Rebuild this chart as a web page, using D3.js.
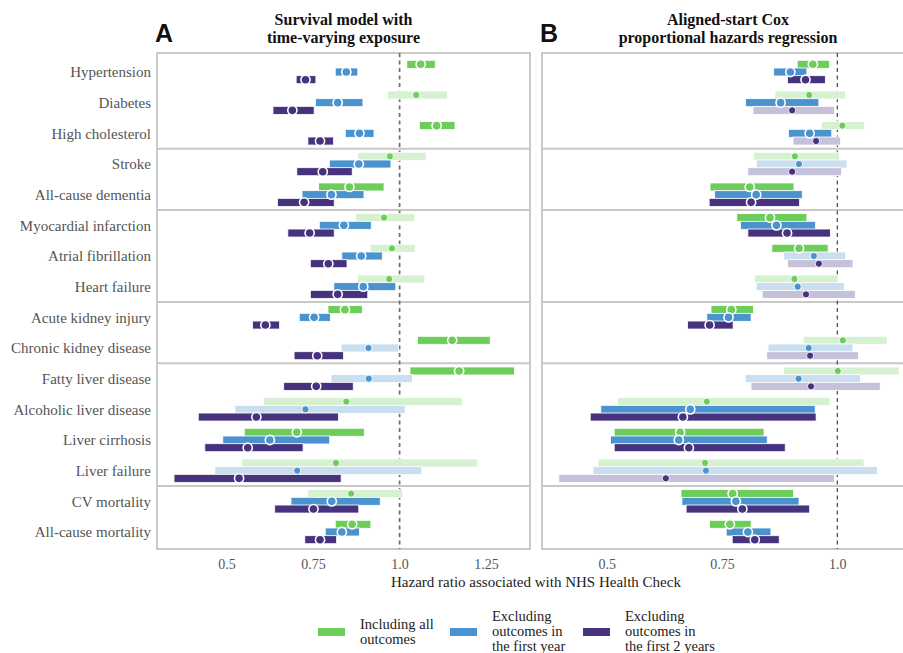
<!DOCTYPE html>
<html>
<head>
<meta charset="utf-8">
<script src="https://cdn.jsdelivr.net/npm/d3@7"></script>
<style>
  body { margin: 0; background: #fff; }
  svg { display: block; }
</style>
</head>
<body>
<div class="chart"></div>
<script>
// outcomes, top to bottom
var outcomes = ["Hypertension", "Diabetes", "High cholesterol", "Stroke", "All-cause dementia",
  "Myocardial infarction", "Atrial fibrillation", "Heart failure", "Acute kidney injury",
  "Chronic kidney disease", "Fatty liver disease", "Alcoholic liver disease", "Liver cirrhosis",
  "Liver failure", "CV mortality", "All-cause mortality"];
// group number of each outcome (separator lines between groups)
var outcomeGroup = [0, 0, 0, 1, 1, 2, 2, 2, 3, 3, 4, 4, 4, 4, 5, 5];

var seriesNames = ["Including all outcomes", "Excluding outcomes in the first year", "Excluding outcomes in the first 2 years"];

// Panel A: survival model with time-varying exposure
var aAllEst = [1.061, 1.048, 1.107, 0.972, 0.855, 0.955, 0.978, 0.970, 0.842, 1.152, 1.172, 0.846, 0.703, 0.816, 0.860, 0.863];
var aAllLo  = [1.021, 0.965, 1.057, 0.879, 0.766, 0.873, 0.915, 0.878, 0.793, 1.052, 1.030, 0.606, 0.551, 0.544, 0.734, 0.814];
var aAllHi  = [1.103, 1.139, 1.160, 1.077, 0.955, 1.044, 1.045, 1.073, 0.892, 1.262, 1.332, 1.181, 0.898, 1.226, 1.009, 0.917];
var aAllSig = [1, 0, 1, 0, 1, 0, 0, 0, 1, 1, 1, 0, 1, 0, 0, 1];

var aY1Est = [0.846, 0.821, 0.884, 0.882, 0.803, 0.839, 0.889, 0.895, 0.753, 0.910, 0.911, 0.728, 0.625, 0.704, 0.804, 0.833];
var aY1Lo  = [0.814, 0.757, 0.843, 0.797, 0.718, 0.768, 0.833, 0.810, 0.710, 0.831, 0.802, 0.524, 0.489, 0.466, 0.686, 0.785];
var aY1Hi  = [0.879, 0.894, 0.926, 0.975, 0.897, 0.918, 0.950, 0.989, 0.800, 0.997, 1.037, 1.016, 0.798, 1.064, 0.944, 0.884];
var aY1Sig = [1, 1, 1, 1, 1, 1, 1, 1, 1, 0, 0, 0, 1, 0, 1, 1];

var aY2Est = [0.728, 0.690, 0.770, 0.778, 0.724, 0.740, 0.794, 0.821, 0.612, 0.762, 0.759, 0.586, 0.561, 0.536, 0.751, 0.770];
var aY2Lo  = [0.701, 0.634, 0.735, 0.703, 0.647, 0.677, 0.742, 0.742, 0.575, 0.695, 0.665, 0.418, 0.437, 0.348, 0.639, 0.726];
var aY2Hi  = [0.758, 0.753, 0.809, 0.863, 0.811, 0.811, 0.848, 0.908, 0.653, 0.838, 0.866, 0.823, 0.721, 0.831, 0.882, 0.818];
var aY2Sig = [1, 1, 1, 1, 1, 1, 1, 1, 1, 1, 1, 1, 1, 1, 1, 1];

// Panel B: aligned-start Cox proportional hazards regression
var bAllEst = [0.947, 0.939, 1.011, 0.908, 0.810, 0.854, 0.917, 0.907, 0.770, 1.012, 1.001, 0.717, 0.659, 0.713, 0.773, 0.767];
var bAllLo  = [0.913, 0.865, 0.965, 0.819, 0.724, 0.782, 0.858, 0.821, 0.726, 0.926, 0.883, 0.523, 0.516, 0.481, 0.661, 0.723];
var bAllHi  = [0.983, 1.018, 1.059, 1.005, 0.906, 0.934, 0.980, 1.002, 0.818, 1.108, 1.134, 0.984, 0.841, 1.058, 0.905, 0.813];
var bAllSig = [1, 0, 0, 0, 1, 1, 1, 0, 1, 0, 0, 0, 1, 0, 1, 1];

var bY1Est = [0.898, 0.877, 0.940, 0.917, 0.824, 0.868, 0.949, 0.914, 0.764, 0.938, 0.916, 0.681, 0.656, 0.715, 0.780, 0.806];
var bY1Lo  = [0.862, 0.801, 0.894, 0.824, 0.734, 0.790, 0.884, 0.824, 0.717, 0.850, 0.800, 0.487, 0.508, 0.470, 0.663, 0.759];
var bY1Hi  = [0.934, 0.960, 0.988, 1.021, 0.924, 0.953, 1.018, 1.015, 0.813, 1.034, 1.050, 0.952, 0.848, 1.087, 0.917, 0.856];
var bY1Sig = [1, 1, 1, 0, 1, 1, 0, 0, 1, 0, 0, 1, 1, 0, 1, 1];

var bY2Est = [0.931, 0.902, 0.954, 0.902, 0.813, 0.891, 0.960, 0.932, 0.723, 0.941, 0.943, 0.665, 0.678, 0.628, 0.794, 0.821];
var bY2Lo  = [0.892, 0.817, 0.904, 0.806, 0.722, 0.806, 0.892, 0.837, 0.675, 0.847, 0.813, 0.464, 0.516, 0.396, 0.672, 0.772];
var bY2Hi  = [0.974, 0.994, 1.007, 1.009, 0.918, 0.985, 1.034, 1.039, 0.774, 1.046, 1.093, 0.954, 0.887, 0.994, 0.940, 0.874];
var bY2Sig = [1, 0, 0, 0, 1, 1, 0, 0, 1, 0, 0, 1, 1, 0, 1, 1];

var colors = ["#6ccd5a", "#4b93cf", "#47327e"];
var lightColors = ["#d6f1d0", "#c9deef", "#c6c1da"];

var svgWidth = 903, svgHeight = 653;
var serif = "'Liberation Serif', 'Times New Roman', serif";

var svg = d3.select(".chart").append("svg")
  .attr("width", svgWidth)
  .attr("height", svgHeight);

// shared row scale
var y = d3.scalePoint().domain(outcomes).range([72, 532]);
var frameTop = 53, frameBottom = 549;
var barH = 8, offset = 7.7;

function buildSeries(est, lo, hi, sig) {
  return outcomes.map(function(o, i) {
    return { outcome: o, est: est[i], lo: lo[i], hi: hi[i], sig: sig[i] };
  });
}

var panels = [
  {
    letter: "A", title: ["Survival model with", "time-varying exposure"],
    left: 157, right: 530, domain: [0.2988, 1.3769], ticks: [0.5, 0.75, 1.0, 1.25],
    dash: { color: "#6e6e6e", width: 1.7, array: "4,3.5" },
    series: [buildSeries(aAllEst, aAllLo, aAllHi, aAllSig),
             buildSeries(aY1Est, aY1Lo, aY1Hi, aY1Sig),
             buildSeries(aY2Est, aY2Lo, aY2Hi, aY2Sig)]
  },
  {
    letter: "B", title: ["Aligned-start Cox", "proportional hazards regression"],
    left: 542, right: 920, domain: [0.3594, 1.1794], ticks: [0.5, 0.75, 1.0],
    dash: { color: "#444", width: 1.2, array: "4,3.5" },
    series: [buildSeries(bAllEst, bAllLo, bAllHi, bAllSig),
             buildSeries(bY1Est, bY1Lo, bY1Hi, bY1Sig),
             buildSeries(bY2Est, bY2Lo, bY2Hi, bY2Sig)]
  }
];

panels.forEach(function(p) {
  var x = d3.scaleLinear().domain(p.domain).range([p.left, p.right]);
  var g = svg.append("g");

  // frame
  g.append("rect")
    .attr("x", p.left).attr("y", frameTop)
    .attr("width", p.right - p.left).attr("height", frameBottom - frameTop)
    .attr("fill", "none").attr("stroke", "#bdbdbd").attr("stroke-width", 1.6);

  // group separators
  for (var i = 1; i < outcomes.length; i++) {
    if (outcomeGroup[i] !== outcomeGroup[i - 1]) {
      var sy = (y(outcomes[i]) + y(outcomes[i - 1])) / 2;
      g.append("line")
        .attr("x1", p.left).attr("x2", p.right)
        .attr("y1", sy).attr("y2", sy)
        .attr("stroke", "#c8c8c8").attr("stroke-width", 2);
    }
  }

  // reference line at HR = 1
  g.append("line")
    .attr("x1", x(1)).attr("x2", x(1))
    .attr("y1", frameTop).attr("y2", frameBottom)
    .attr("stroke", p.dash.color)
    .attr("stroke-width", p.dash.width)
    .attr("stroke-dasharray", p.dash.array);

  // confidence interval bars
  p.series.forEach(function(data, s) {
    var dy = (s - 1) * offset;
    g.append("g").selectAll("rect")
      .data(data)
      .enter()
      .append("rect")
      .attr("x", d => x(d.lo))
      .attr("y", d => y(d.outcome) + dy - barH / 2)
      .attr("width", d => x(d.hi) - x(d.lo))
      .attr("height", barH)
      .attr("fill", d => d.sig ? colors[s] : lightColors[s])
      .attr("stroke", "#fff")
      .attr("stroke-width", 0.8);
  });
  // point estimates
  p.series.forEach(function(data, s) {
    var dy = (s - 1) * offset;
    g.append("g").selectAll("circle")
      .data(data)
      .enter()
      .append("circle")
      .attr("cx", d => x(d.est))
      .attr("cy", d => y(d.outcome) + dy)
      .attr("r", d => d.sig ? 4.6 : 3.6)
      .attr("fill", colors[s])
      .attr("stroke", "#fff")
      .attr("stroke-width", d => d.sig ? 1.6 : 0.9);
  });

  // x axis (labels only)
  var axis = g.append("g")
    .attr("transform", `translate(0, ${frameBottom})`)
    .call(d3.axisBottom(x).tickValues(p.ticks).tickSize(0).tickPadding(10)
      .tickFormat(d => d === 1 ? "1.0" : String(d)));
  axis.select(".domain").remove();
  axis.selectAll("text")
    .style("font", `14px ${serif}`)
    .attr("fill", "#555");

  // panel title
  var cx = p.letter === "A" ? (p.left + p.right) / 2 : 728;
  g.append("text")
    .attr("text-anchor", "middle")
    .style("font", `bold 16px ${serif}`)
    .attr("fill", "#111")
    .selectAll("tspan")
    .data(p.title)
    .enter()
    .append("tspan")
    .attr("x", cx)
    .attr("y", (d, i) => 25 + i * 18)
    .text(d => d);

  g.append("text")
    .attr("x", p.left - 2)
    .attr("y", 42)
    .style("font", "bold 25px 'Liberation Sans', Arial, sans-serif")
    .attr("fill", "#111")
    .text(p.letter);
});

// outcome labels
svg.append("g").selectAll("text")
  .data(outcomes)
  .enter()
  .append("text")
  .attr("x", 151)
  .attr("y", d => y(d))
  .attr("dy", "0.35em")
  .attr("text-anchor", "end")
  .style("font", `15px ${serif}`)
  .attr("fill", "#555")
  .text(d => d);

// x axis title
svg.append("text")
  .attr("x", 536)
  .attr("y", 587)
  .attr("text-anchor", "middle")
  .style("font", `15px ${serif}`)
  .attr("fill", "#222")
  .text("Hazard ratio associated with NHS Health Check");

// legend
var legendLines = [["Including all", "outcomes"],
                   ["Excluding", "outcomes in", "the first year"],
                   ["Excluding", "outcomes in", "the first 2 years"]];
var legendX = [318, 450, 583];
legendLines.forEach(function(lines, s) {
  var lg = svg.append("g");
  lg.append("rect")
    .attr("x", legendX[s]).attr("y", 628)
    .attr("width", 27).attr("height", 8)
    .attr("fill", colors[s]);
  var y0 = 636 - (lines.length - 1) * 15 / 2;
  lg.append("text")
    .style("font", `14.5px ${serif}`)
    .attr("fill", "#222")
    .selectAll("tspan")
    .data(lines)
    .enter()
    .append("tspan")
    .attr("x", legendX[s] + 42)
    .attr("y", (d, i) => y0 + i * 15)
    .text(d => d);
});
</script>
</body>
</html>
